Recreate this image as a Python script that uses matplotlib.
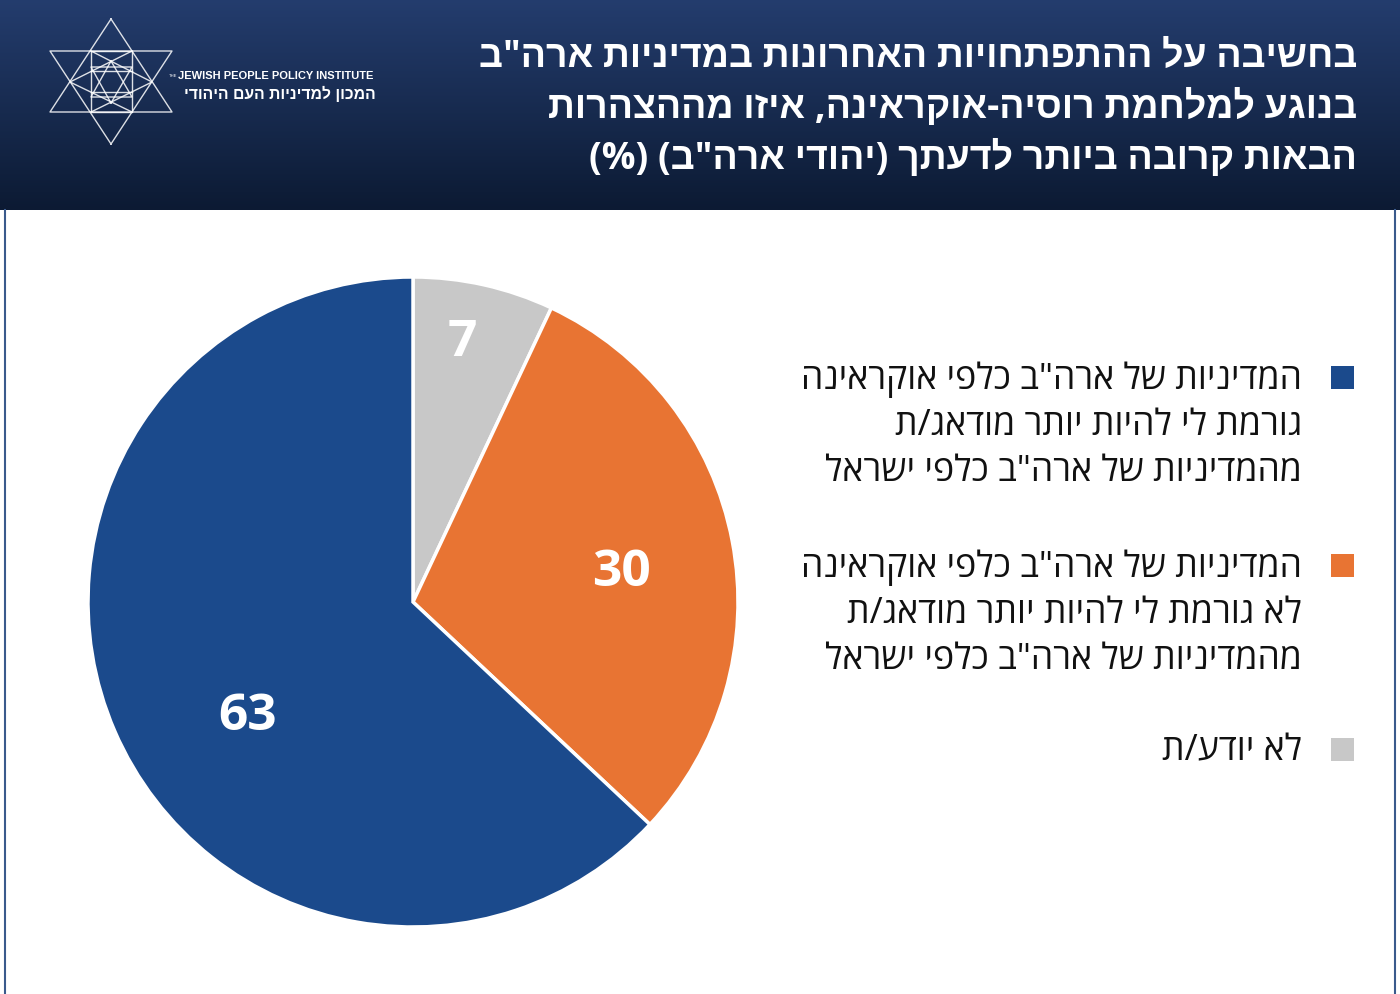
import matplotlib
matplotlib.use("Agg")
import matplotlib.pyplot as plt
import matplotlib.transforms as mtransforms
import numpy as np
from matplotlib.patches import Rectangle

plt.rcParams['font.family'] = ['Open Sans', 'Liberation Sans', 'DejaVu Sans']

# ---- data ----
categories = [
    'לא יודע/ת',
    'המדיניות של ארה"ב כלפי אוקראינה\nלא גורמת לי להיות יותר מודאג/ת\nמהמדיניות של ארה"ב כלפי ישראל',
    'המדיניות של ארה"ב כלפי אוקראינה\nגורמת לי להיות יותר מודאג/ת\nמהמדיניות של ארה"ב כלפי ישראל',
]
values = [7, 30, 63]
colors = ['#c8c8c8', '#e87433', '#1b4a8c']
legend_order = [2, 1, 0]

title_lines = [
    'בחשיבה על ההתפתחויות האחרונות במדיניות ארה"ב',
    'בנוגע למלחמת רוסיה-אוקראינה, איזו מההצהרות',
    'הבאות קרובה ביותר לדעתך (יהודי ארה"ב) (%)',
]
logo_en = 'JEWISH PEOPLE POLICY INSTITUTE'
logo_he = 'המכון למדיניות העם היהודי'

MIRROR = {'(': ')', ')': '('}


def vis(s):
    """Convert logical-order Hebrew line to visual order for LTR renderer."""
    return '\n'.join(''.join(MIRROR.get(c, c) for c in reversed(line)) for line in s.split('\n'))


W, H = 1400, 995
fig = plt.figure(figsize=(W / 100, H / 100), dpi=100)
fig.patch.set_facecolor('white')

# background / header
bg = fig.add_axes([0, 0, 1, 1])
bg.set_xlim(0, W)
bg.set_ylim(H, 0)
bg.axis('off')
grad = np.linspace(0, 1, 256).reshape(-1, 1)
top = np.array([0x24, 0x3d, 0x6e]) / 255
bot = np.array([0x0c, 0x1a, 0x33]) / 255
img = top[None, None, :] * (1 - grad[:, :, None]) + bot[None, None, :] * grad[:, :, None]
bg.imshow(img, extent=[0, W, 211, 0], aspect='auto', zorder=0)
bg.set_xlim(0, W)
bg.set_ylim(H, 0)
# side borders
bg.plot([5, 5], [211, H], color='#3a5a8c', lw=1.5)
bg.plot([1395, 1395], [211, H], color='#3a5a8c', lw=1.5)

# logo (decorative hexagram)
lk = dict(color='white', lw=1.0, alpha=0.85)
cx = 111
bg.plot([cx, 50, 172, cx], [20, 113, 113, 20], **lk)
bg.plot([cx, 50, 172, cx], [145, 52, 52, 145], **lk)
bg.plot([91, 132, 132, 91, 91], [52, 52, 113, 113, 52], **lk)
bg.plot([91, 132], [72, 72], **lk)
bg.plot([91, 132], [93, 93], **lk)
bg.plot([132, 70, 132], [52, 83, 113], **lk)
bg.plot([91, 152, 91], [52, 83, 113], **lk)
bg.plot([cx, 91, 132, cx], [62, 98, 98, 62], **lk)
bg.plot([cx, 91, 132, cx], [104, 68, 68, 104], **lk)

bg.text(169, 76, 'THE', fontsize=3.0, color='white', ha='left', va='center', family=['Liberation Sans', 'DejaVu Sans'])
bg.text(178, 76, logo_en, fontsize=8.0, color='white', ha='left', va='center', weight='bold',
        family=['Liberation Sans', 'DejaVu Sans'])
bg.text(376, 94, vis(logo_he), fontsize=11.3, color='white', ha='right', va='center', weight='bold',
        family=['Liberation Sans', 'DejaVu Sans'])

# title
for i, line in enumerate(title_lines):
    bg.text(1357, 57 + i * 51, vis(line), fontsize=27, color='white', weight='bold',
            ha='right', va='center')

# pie
R = 325
pcx, pcy = 413, 603
ax = fig.add_axes([(pcx - R) / W, (H - pcy - R) / H, 2 * R / W, 2 * R / H])
wedges, _ = ax.pie(values, colors=colors, startangle=90, counterclock=False,
                   wedgeprops=dict(edgecolor='white', linewidth=2.5))
ax.set_xlim(-1, 1)
ax.set_ylim(-1, 1)
ax.set_aspect('auto')
label_r = [0.83, 0.65, 0.61]
label_dang = [2, -1.3, 10]
tr = mtransforms.offset_copy(ax.transData, fig=fig, x=0, y=-5, units='dots')
for w, v, r, da in zip(wedges, values, label_r, label_dang):
    ang = np.deg2rad((w.theta1 + w.theta2) / 2 + da)
    ax.text(r * np.cos(ang), r * np.sin(ang), str(v), color='white', fontsize=37, weight='bold',
            ha='center', va='center', transform=tr)

# legend
leg_y = [378, 566, 750]
for k, yy in zip(legend_order, leg_y):
    bg.add_patch(Rectangle((1331, yy - 11), 23, 23, color=colors[k], lw=0))
    bg.text(1302, yy - 17, vis(categories[k]), fontsize=25.7, color='#111111', ha='right', va='top',
            linespacing=1.38)

fig.savefig('out.png', dpi=100)
